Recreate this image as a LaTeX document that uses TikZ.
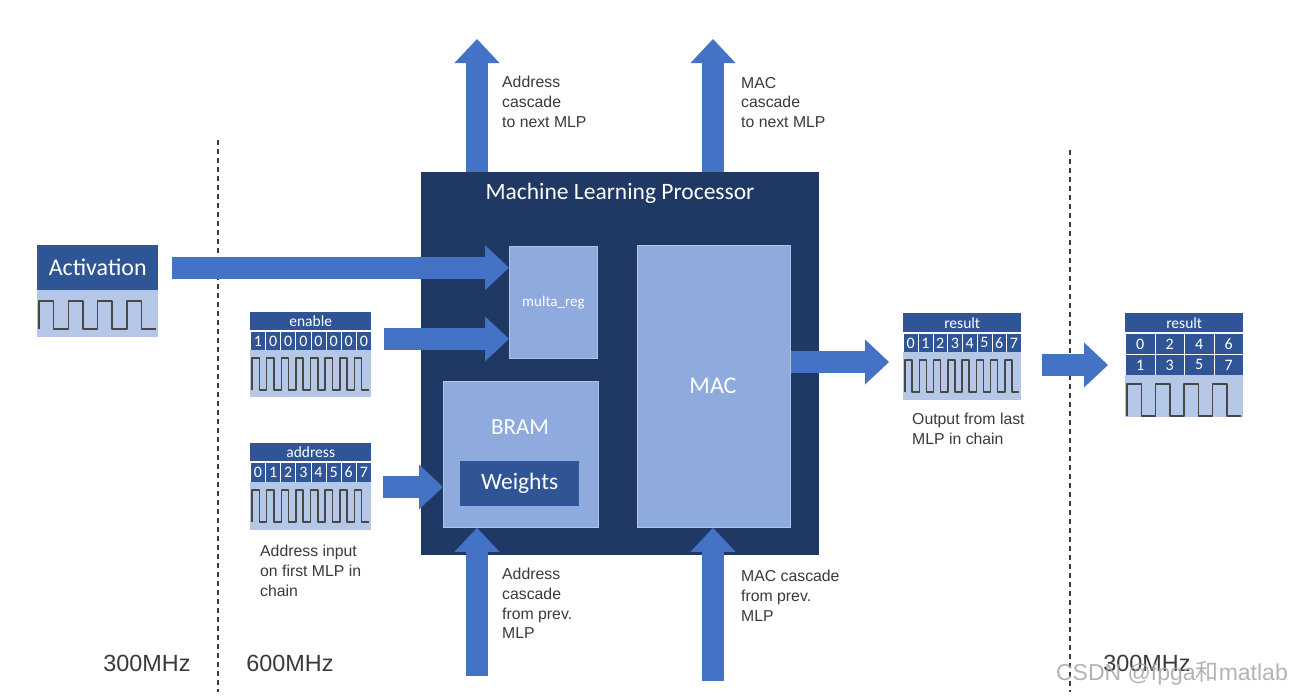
\documentclass[tikz,border=0pt]{standalone}
\usepackage{fontspec}
\setmainfont{Liberation Sans}
\newfontfamily\cfont{Carlito}
\newfontfamily\cjkfont{Noto Sans CJK SC}
\usetikzlibrary{arrows.meta}
\definecolor{navy}{HTML}{203864}
\definecolor{hdr}{HTML}{2F5597}
\definecolor{lightbox}{HTML}{8FAADC}
\definecolor{wavebg}{HTML}{B4C7E7}
\definecolor{arrowblue}{HTML}{4472C4}
\definecolor{labelgray}{HTML}{3A3A3A}
\tikzset{
  bigarrow/.style={draw=arrowblue, line width=22pt, -{Triangle[width=45pt,length=24pt,line width=0pt]}},
  box/.style={inner sep=0pt, anchor=north west},
  cell/.style={box, fill=hdr, draw=white, line width=0.8pt, text=white, font=\cfont\fontsize{16}{16}\selectfont},
  titlecell/.style={box, fill=hdr, text=white, font=\cfont\fontsize{15.5}{15.5}\selectfont},
  wavebox/.style={box, fill=wavebg},
  waveline/.style={draw=black!72, line width=1.5pt, line join=round},
  lbl/.style={inner sep=0pt, anchor=north west, align=left, text=labelgray, font=\fontsize{15.8}{19.7}\selectfont},
  freq/.style={inner sep=0pt, text=labelgray, font=\fontsize{23.4}{23.4}\selectfont},
  sep/.style={draw=labelgray, line width=1.5pt, dash pattern=on 5pt off 4pt},
  inbox/.style={box, fill=lightbox, draw=lightbox!70!white, line width=0.8pt, text=white}
}
\newcommand\bitrow[6]{\foreach \d [count=\i from 0] in {#6}{\node[cell, minimum width=#4pt, minimum height=#5pt] (#1-\i) at ({#2+\i*#4},#3) {\d};}}
\newcommand\wave[5]{\draw[waveline] (#1,#2) \foreach \k in {1,...,#5}{ -- ++(0,-#4) -- ++({#3/#5/2},0) -- ++(0,#4) -- ++({#3/#5/2},0)};}
\begin{document}
\begin{tikzpicture}[x=1pt,y=-1pt]
\useasboundingbox (0,0) rectangle (1290,699);
\fill[white] (0,0) rectangle (1290,699);

% separators
\coordinate (s1t) at (218,140); \coordinate (s1b) at (218,692);
\coordinate (s2t) at (1070,150); \coordinate (s2b) at (1070,692);
\draw[sep] (s1t) -- (s1b);
\draw[sep] (s2t) -- (s2b);

% Machine learning processor
\node[box, fill=navy, minimum width=398pt, minimum height=383pt] (mlp) at (421,172) {};
\node[text=white, font=\cfont\fontsize{23.5}{23.5}\selectfont] (mlptitle) at (620,193) {Machine Learning Processor};
\node[inbox, minimum width=88pt, minimum height=112pt, font=\cfont\fontsize{15}{15}\selectfont] (mreg) at (509,246) {multa\_reg};
\node[inbox, minimum width=153pt, minimum height=282pt] (mac) at (637,245) {};
\node[text=white, font=\cfont\fontsize{24}{24}\selectfont] (mactext) at (713,386) {MAC};
\node[inbox, minimum width=155pt, minimum height=146pt] (bram) at (443,381) {};
\node[text=white, font=\cfont\fontsize{23}{23}\selectfont] (bramtext) at (520,427) {BRAM};
\node[box, fill=hdr, text=white, minimum width=119pt, minimum height=45pt, font=\cfont\fontsize{23.5}{23.5}\selectfont] (weights) at (460,461) {Weights};

% Activation
\node[titlecell, minimum width=121pt, minimum height=45pt, font=\cfont\fontsize{24}{24}\selectfont] (act) at (37,245) {Activation};
\node[wavebox, minimum width=121pt, minimum height=47pt] (actw) at (37,290) {};
\wave{39}{329}{117}{28}{4}

% enable
\node[titlecell, minimum width=121pt, minimum height=18pt] (en) at (250,312) {enable};
\bitrow{enb}{250}{331}{15.125}{19}{1,0,0,0,0,0,0,0}
\node[wavebox, minimum width=121pt, minimum height=47pt] (enw) at (250,350) {};
\wave{252}{390}{117}{32}{8}

% address
\node[titlecell, minimum width=121pt, minimum height=18pt] (ad) at (250,443) {address};
\bitrow{adb}{250}{462}{15.125}{20}{0,1,2,3,4,5,6,7}
\node[wavebox, minimum width=121pt, minimum height=48pt] (adw) at (250,482) {};
\wave{252}{522}{117}{32}{8}

% result
\node[titlecell, minimum width=118pt, minimum height=19pt] (res) at (903,313) {result};
\bitrow{resb}{903}{333}{14.75}{19}{0,1,2,3,4,5,6,7}
\node[wavebox, minimum width=118pt, minimum height=48pt] (resw) at (903,352) {};
\wave{905}{392}{114}{32}{8}

% result 2
\node[titlecell, minimum width=118pt, minimum height=19pt] (rtwo) at (1125,313) {result};
\bitrow{rtwoa}{1125}{333}{29.5}{21}{0,2,4,6}
\bitrow{rtwob}{1125}{354}{29.5}{21}{1,3,5,7}
\node[wavebox, minimum width=118pt, minimum height=42pt] (rtwow) at (1125,375) {};
\wave{1127}{416}{114}{32}{4}

% arrows
\draw[bigarrow] ([xshift=14pt]act.east) -- (act.east -| mreg.west);
\draw[bigarrow] ([xshift=12pt,yshift=2pt]enb-7.east) -- ([yshift=2pt]enb-7.east -| mreg.west);
\coordinate (adin) at (383,487);
\draw[bigarrow] (adin) -- (adin -| bram.west);
\coordinate (mac-out) at (889,362);
\draw[bigarrow] (mac-out -| mac.east) -- (mac-out);
\coordinate (r2s) at (1042,365); \coordinate (r2e) at (1108,365);
\draw[bigarrow] (r2s) -- (r2e);
\coordinate (upA) at (477,39); \coordinate (upM) at (713,39);
\draw[bigarrow] (upA |- mlp.north) -- (upA);
\draw[bigarrow] (upM |- mlp.north) -- (upM);
\coordinate (inA) at (477,676); \coordinate (inM) at (713,681);
\draw[bigarrow] (inA) -- (inA |- bram.south);
\draw[bigarrow] (inM) -- (inM |- mac.south);

% labels
\node[lbl] (l1) at (502,76) {Address\\cascade\\to next MLP};
\node[lbl] (l2) at (741,77) {MAC\\cascade\\to next MLP};
\node[lbl] (l3) at (502,568) {Address\\cascade\\from prev.\\MLP};
\node[lbl] (l4) at (741,570) {MAC cascade\\from prev.\\MLP};
\node[lbl] (l5) at (260,545) {Address input\\on first MLP in\\chain};
\node[lbl] (l6) at (912,413) {Output from last\\MLP in chain};

\node[freq] (f1) at (147,663) {300MHz};
\node[freq] (f2) at (290,663) {600MHz};
\node[freq] (f3) at (1147,663) {300MHz};

\node[inner sep=0pt, text=gray!70, opacity=0.85, font=\fontsize{23}{23}\selectfont, anchor=east] (wm) at (1288,673) {CSDN @fpga{\cjkfont 和}matlab};
\end{tikzpicture}
\end{document}
